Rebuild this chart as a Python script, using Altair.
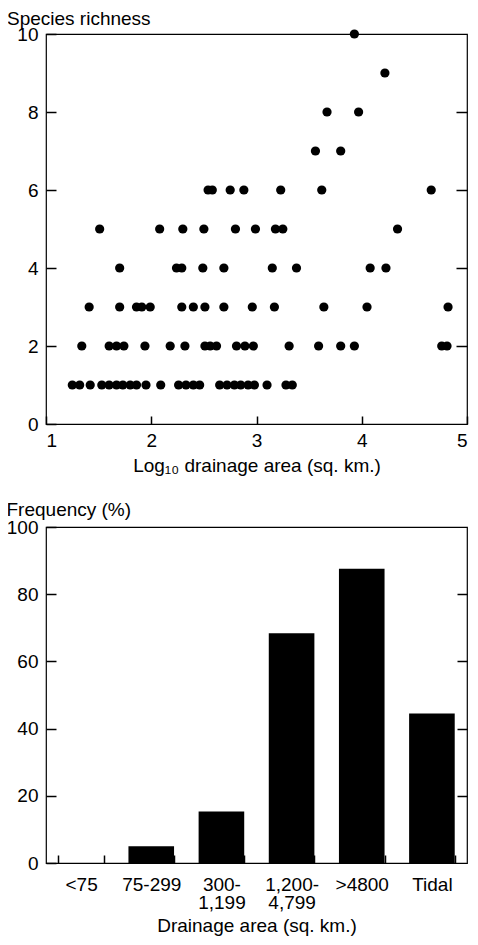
import altair as alt
import pandas as pd

# ---- Scatter data: log10 drainage area for each species-richness level ----
x_r1 = [1.25, 1.32, 1.42, 1.53, 1.60, 1.67, 1.73, 1.80, 1.86, 1.95, 2.09, 2.26, 2.33, 2.40, 2.46,
        2.65, 2.72, 2.79, 2.85, 2.92, 2.98, 3.10, 3.28, 3.34]
x_r2 = [1.34, 1.60, 1.67, 1.74, 1.94, 2.18, 2.32, 2.51, 2.56, 2.62, 2.81, 2.89, 2.97,
        3.31, 3.59, 3.80, 3.93, 4.76, 4.81]
x_r3 = [1.41, 1.70, 1.86, 1.91, 1.99, 2.29, 2.40, 2.51, 2.69, 2.96, 3.17, 3.64, 4.05, 4.82]
x_r4 = [1.70, 2.24, 2.29, 2.49, 2.69, 3.15, 3.38, 4.08, 4.23]
x_r5 = [1.51, 2.08, 2.30, 2.50, 2.80, 2.99, 3.18, 3.25, 4.34]
x_r6 = [2.54, 2.58, 2.75, 2.88, 3.23, 3.62, 4.66]
x_r7 = [3.56, 3.80]
x_r8 = [3.67, 3.97]
x_r9 = [4.22]
x_r10 = [3.93]

# ---- Bar data ----
area_classes = ["<75", "75-299", "300- 1,199", "1,200- 4,799", ">4800", "Tidal"]
frequency = [0, 5.0, 15.3, 68.4, 87.6, 44.5]

rows = []
for rich, xs in zip(range(1, 11), [x_r1, x_r2, x_r3, x_r4, x_r5, x_r6, x_r7, x_r8, x_r9, x_r10]):
    for v in xs:
        rows.append({"logarea": v, "richness": rich})
scatter_df = pd.DataFrame(rows)
bar_df = pd.DataFrame({"area": area_classes, "freq": frequency})

FONT = "Liberation Sans"
LBL = 19
TTL = 19

# ---------------- Top: scatter ----------------
xs_scale = alt.Scale(domain=[1, 5], nice=False, zero=False)
ys_scale = alt.Scale(domain=[0, 10], nice=False)

pts = alt.Chart(scatter_df).mark_circle(size=85, color="black", opacity=1).encode(
    x=alt.X("logarea:Q", scale=xs_scale,
            axis=alt.Axis(values=[1, 2, 3, 4, 5], title="Log₁₀ drainage area (sq. km.)",
                          orient="bottom", offset=-8, tickSize=8, domain=False, grid=False,
                          labelFlush=True, labelPadding=7, titlePadding=6,
                          format="d")),
    y=alt.Y("richness:Q", scale=ys_scale,
            axis=alt.Axis(values=[0, 2, 4, 6, 8, 10], title="Species richness",
                          orient="left", offset=-10, tickSize=10, domain=False, grid=False,
                          labelFlush=False, labelPadding=8,
                          titleAngle=0, titleAlign="left", titleBaseline="alphabetic",
                          titleX=-49.5, titleY=-10)),
)
right_top = alt.Chart(scatter_df).mark_circle(opacity=0, size=1).encode(
    x=alt.X("logarea:Q", scale=xs_scale),
    y=alt.Y("richness:Q", scale=ys_scale,
            axis=alt.Axis(values=[2, 4, 6, 8], title="", orient="right", offset=-11,
                          tickSize=11, labels=False, domain=False, grid=False)),
)
top = alt.layer(pts, right_top).resolve_axis(y="independent").properties(width=421, height=390)

# ---------------- Bottom: bars ----------------
yb_scale = alt.Scale(domain=[0, 100], nice=False)
bars = alt.Chart(bar_df).mark_bar(color="black").encode(
    x=alt.X("area:N", sort=area_classes,
            scale=alt.Scale(paddingInner=0.35, paddingOuter=0.175),
            axis=alt.Axis(title="Drainage area (sq. km.)", orient="bottom", labelAngle=0,
                          offset=-8, tickSize=8, tickBand="extent", domain=False, grid=False,
                          labelExpr="split(datum.label, ' ')", labelLineHeight=18,
                          labelPadding=12, titlePadding=4)),
    y=alt.Y("freq:Q", scale=yb_scale,
            axis=alt.Axis(values=[0, 20, 40, 60, 80, 100], title="Frequency (%)",
                          orient="left", offset=-10, tickSize=10, domain=False, grid=False,
                          labelFlush=False, labelPadding=8,
                          titleAngle=0, titleAlign="left", titleBaseline="alphabetic",
                          titleX=-50, titleY=-12)),
)
right_bot = alt.Chart(bar_df).mark_bar(opacity=0).encode(
    x=alt.X("area:N", sort=area_classes),
    y=alt.Y("freq:Q", scale=yb_scale,
            axis=alt.Axis(values=[20, 40, 60, 80], title="", orient="right", offset=-10,
                          tickSize=10, labels=False, domain=False, grid=False)),
)
bottom = alt.layer(bars, right_bot).resolve_axis(y="independent").properties(width=421, height=336)

chart = alt.vconcat(top, bottom, spacing=23).properties(
    padding={"left": -3, "top": 0, "right": 0, "bottom": 0}
).configure_view(stroke="black", strokeWidth=1.2).configure_axis(
    labelFont=FONT, titleFont=FONT, labelFontSize=LBL, titleFontSize=TTL,
    labelColor="black", titleColor="black", tickColor="black", tickWidth=1.5,
    titleFontWeight="normal"
)

chart.save("out.html", embed_options={"renderer": "svg", "actions": False})
